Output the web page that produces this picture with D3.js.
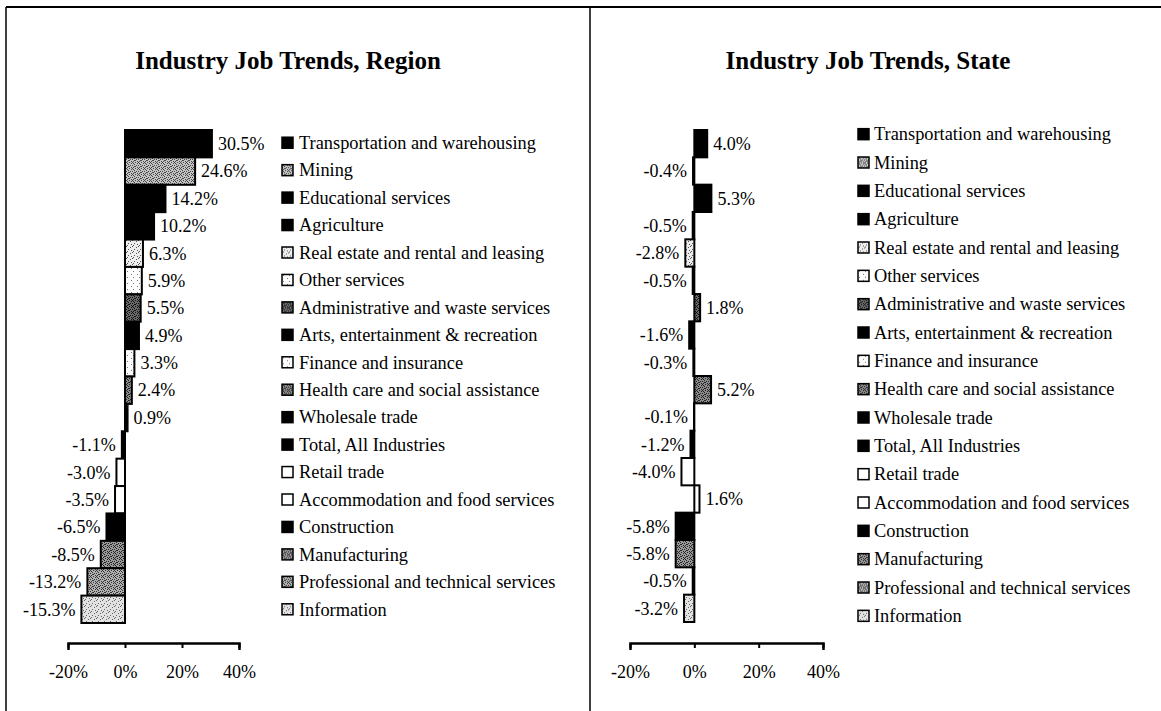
<!DOCTYPE html>
<html>
<head>
<meta charset="utf-8">
<script src="https://cdn.jsdelivr.net/npm/d3@7/dist/d3.min.js"></script>
<style>
  html, body { margin: 0; padding: 0; background: #fff; }
  svg { display: block; }
  text { font-family: "Liberation Serif", "Times New Roman", serif; fill: #000; }
</style>
</head>
<body>
<svg id="chart" width="1161" height="711"></svg>
<script>
// ---------------- DATA ----------------
const categories = [
  "Transportation and warehousing",
  "Mining",
  "Educational services",
  "Agriculture",
  "Real estate and rental and leasing",
  "Other services",
  "Administrative and waste services",
  "Arts, entertainment & recreation",
  "Finance and insurance",
  "Health care and social assistance",
  "Wholesale trade",
  "Total, All Industries",
  "Retail trade",
  "Accommodation and food services",
  "Construction",
  "Manufacturing",
  "Professional and technical services",
  "Information"
];
const regionValues = [30.5, 24.6, 14.2, 10.2, 6.3, 5.9, 5.5, 4.9, 3.3, 2.4, 0.9, -1.1, -3.0, -3.5, -6.5, -8.5, -13.2, -15.3];
const stateValues  = [4.0, -0.4, 5.3, -0.5, -2.8, -0.5, 1.8, -1.6, -0.3, 5.2, -0.1, -1.2, -4.0, 1.6, -5.8, -5.8, -0.5, -3.2];
const xTickValues = [-20, 0, 20, 40];
const titles = ["Industry Job Trends, Region", "Industry Job Trends, State"];

// ---------------- STYLES ----------------
const fillStyle = {
  "Transportation and warehousing": "solid",
  "Mining": "grayMid",
  "Educational services": "solid",
  "Agriculture": "solid",
  "Real estate and rental and leasing": "dotLight",
  "Other services": "dotSparse",
  "Administrative and waste services": "grayDarker",
  "Arts, entertainment & recreation": "solid",
  "Finance and insurance": "dotSparse",
  "Health care and social assistance": "grayDark",
  "Wholesale trade": "solid",
  "Total, All Industries": "solid",
  "Retail trade": "blank",
  "Accommodation and food services": "blank",
  "Construction": "solid",
  "Manufacturing": "grayDark2",
  "Professional and technical services": "grayMid2",
  "Information": "grayLight"
};

const svg = d3.select("#chart");
const defs = svg.append("defs");

const denseDots = [[0,0],[3,0],[1,1],[5,1],[2,2],[4,3],[0,3],[3,4],[1,5],[5,5],[2,4]];
const lightDots = [[0,0],[4,1],[2,3],[5,4],[1,5]];
const sparseDots = [[1,1],[5,4]];
function stipple(id, base, dot, dots) {
  const p = defs.append("pattern").attr("id", id)
    .attr("width", 6).attr("height", 6).attr("patternUnits", "userSpaceOnUse");
  p.append("rect").attr("width", 6).attr("height", 6).attr("fill", base);
  dots.forEach(([dx, dy]) => p.append("rect").attr("x", dx).attr("y", dy)
    .attr("width", 1).attr("height", 1).attr("fill", dot));
}
stipple("grayMid", "#c4c4c4", "#444", denseDots);
stipple("grayMid2", "#b0b0b0", "#333", denseDots);
stipple("grayDark", "#8a8a8a", "#222", denseDots);
stipple("grayDarker", "#6a6a6a", "#111", denseDots);
stipple("grayDark2", "#9a9a9a", "#222", denseDots);
stipple("grayLight", "#e2e2e2", "#666", lightDots);
stipple("dotLight", "#eeeeee", "#555", lightDots);
stipple("dotSparse", "#fcfcfc", "#777", sparseDots);

function fillFor(cat) {
  const s = fillStyle[cat];
  if (s === "solid") return "#000";
  if (s === "blank") return "#fff";
  return "url(#" + s + ")";
}
const fmtPct = v => v.toFixed(1) + "%";

// ---------------- FRAME ----------------
svg.append("line").attr("x1", 6).attr("x2", 1161).attr("y1", 7).attr("y2", 7)
  .attr("stroke", "#000").attr("stroke-width", 2);
svg.append("line").attr("x1", 6).attr("x2", 6).attr("y1", 7).attr("y2", 711)
  .attr("stroke", "#000").attr("stroke-width", 1.5);
svg.append("line").attr("x1", 590).attr("x2", 590).attr("y1", 7).attr("y2", 711)
  .attr("stroke", "#000").attr("stroke-width", 1.5);

// ---------------- PANELS ----------------
const panels = [
  { values: regionValues, title: titles[0], titleX: 288, xr: [68, 239], yr: [130, 623],
    legSq: 282, legText: 299, legY: [129, 623] },
  { values: stateValues, title: titles[1], titleX: 868, xr: [630, 823], yr: [130, 622],
    legSq: 858, legText: 874, legY: [120, 630] }
];

panels.forEach(P => {
  const g = svg.append("g");
  const x = d3.scaleLinear().domain([-20, 40]).range(P.xr);
  const y = d3.scaleBand().domain(categories).range(P.yr).padding(0);
  const yl = d3.scaleBand().domain(categories).range(P.legY).padding(0);

  g.append("text").attr("x", P.titleX).attr("y", 69)
    .attr("text-anchor", "middle").attr("font-weight", "bold")
    .attr("font-size", 25).text(P.title);

  // bars
  g.selectAll("rect.bar").data(categories).join("rect").attr("class", "bar")
    .attr("x", (d, i) => x(Math.min(0, P.values[i])))
    .attr("y", d => y(d))
    .attr("width", (d, i) => Math.abs(x(P.values[i]) - x(0)))
    .attr("height", y.bandwidth())
    .attr("fill", d => fillFor(d))
    .attr("stroke", "#000").attr("stroke-width", 2);

  // value labels
  g.selectAll("text.val").data(categories).join("text").attr("class", "val")
    .attr("x", (d, i) => P.values[i] >= 0 ? x(P.values[i]) + 6 : x(P.values[i]) - 6)
    .attr("y", d => y(d) + y.bandwidth() / 2)
    .attr("dy", "0.35em")
    .attr("text-anchor", (d, i) => P.values[i] >= 0 ? "start" : "end")
    .attr("font-size", 18)
    .text((d, i) => fmtPct(P.values[i]));

  // axis
  const ax = g.append("g").attr("transform", "translate(0,643)")
    .call(d3.axisBottom(x).tickValues(xTickValues).tickSize(5).tickSizeOuter(7)
      .tickPadding(17).tickFormat(d => d + "%"));
  ax.select(".domain").attr("stroke-width", 2.5);
  ax.selectAll(".tick line").attr("stroke-width", 2);
  ax.selectAll(".tick text").attr("font-size", 18)
    .attr("font-family", "'Liberation Serif', 'Times New Roman', serif");

  // legend
  const lg = g.append("g");
  const rows = lg.selectAll("g.row").data(categories).join("g").attr("class", "row")
    .attr("transform", d => `translate(0,${yl(d) + yl.bandwidth() / 2})`);
  rows.append("rect").attr("x", P.legSq).attr("y", -5.5).attr("width", 11).attr("height", 11)
    .attr("fill", d => fillFor(d)).attr("stroke", "#000").attr("stroke-width", 1.5);
  rows.append("text")
    .attr("transform", `translate(${P.legText},0) scale(1.02,1)`)
    .attr("dy", "0.35em").attr("font-size", 18).text(d => d);
});
</script>
</body>
</html>
